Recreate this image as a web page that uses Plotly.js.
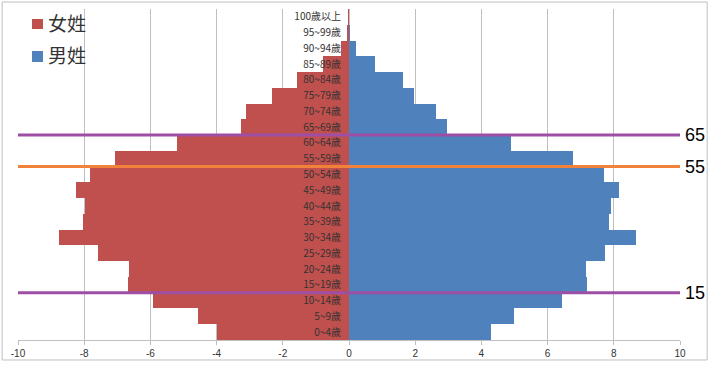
<!DOCTYPE html>
<html>
<head>
<meta charset="utf-8">
<script src="https://cdn.plot.ly/plotly-3.0.1.min.js"></script>
<style>html,body{margin:0;padding:0;background:#fff;}#chart{width:720px;height:386px;}</style>
</head>
<body>
<div id="chart"></div>
<script>
const ageGroups = ["0~4歲","5~9歲","10~14歲","15~19歲","20~24歲","25~29歲","30~34歲","35~39歲","40~44歲","45~49歲","50~54歲","55~59歲","60~64歲","65~69歲","70~74歲","75~79歲","80~84歲","85~89歲","90~94歲","95~99歲","100歲以上"];
const female = [3.98,4.56,5.93,6.69,6.65,7.59,8.77,8.04,7.99,8.24,7.84,7.06,5.2,3.27,3.11,2.34,1.58,0.8,0.24,0.06,0.03];
const male = [4.28,4.97,6.43,7.19,7.16,7.72,8.66,7.86,7.91,8.17,7.69,6.78,4.9,2.97,2.62,1.96,1.64,0.78,0.2,0.02,0.01];
const xTicks = [-10,-8,-6,-4,-2,0,2,4,6,8,10];
const seriesNames = ["女姓","男姓"];
const seriesColors = ["#C0504D","#4F81BD"];
const refAges = [65,55,15];
const refColors = ["#9E4FA5","#F0823A","#9E4FA5"];

const femaleNeg = female.map(v => -v);
const cjk = '"Noto Sans CJK TC","Noto Sans CJK SC",sans-serif';

const traces = [
  {type:'bar', orientation:'h', name:seriesNames[0], y:ageGroups, x:femaleNeg,
   marker:{color:seriesColors[0]}, hoverinfo:'skip'},
  {type:'bar', orientation:'h', name:seriesNames[1], y:ageGroups, x:male,
   marker:{color:seriesColors[1]}, hoverinfo:'skip'}
];

const shapes = [];
const annotations = [];
refAges.forEach((a,i) => {
  const yb = a/5 - 0.5;
  shapes.push({type:'line', xref:'x', yref:'y', x0:-10, x1:10, y0:yb, y1:yb,
    line:{color:refColors[i], width:3}, layer:'above'});
  annotations.push({xref:'paper', yref:'y', x:1.004, y:yb, text:String(a), showarrow:false,
    xanchor:'left', yanchor:'middle', font:{size:18, color:'#000', family:'"Liberation Sans",Arial,sans-serif'}});
});
// legend (drawn manually to match the original placement)
const legSquares = [[0.9396,0.9698],[0.8399,0.8731]];
const legTextY = [0.9607,0.8640];
seriesNames.forEach((n,i) => {
  shapes.push({type:'rect', xref:'paper', yref:'paper', x0:0.0211, x1:0.0378,
    y0:legSquares[i][0], y1:legSquares[i][1], line:{width:0}, fillcolor:seriesColors[i], layer:'above'});
  annotations.push({xref:'paper', yref:'paper', x:0.0425, y:legTextY[i], text:n, showarrow:false,
    xanchor:'left', yanchor:'middle', font:{size:19, color:'#333', family:cjk}});
});
// outer chart border
shapes.push({type:'rect', xref:'paper', yref:'paper', x0:-0.024, x1:1.041, y0:-0.0604, y1:1.021,
  line:{color:'#BFBFBF', width:1}, fillcolor:'rgba(0,0,0,0)', layer:'below'});

const layout = {
  width:720, height:386,
  margin:{l:18, r:40, t:9, b:46},
  paper_bgcolor:'#fff', plot_bgcolor:'#fff',
  barmode:'relative', bargap:0,
  font:{family:cjk, color:'#333'},
  xaxis:{range:[-10,10], tickvals:xTicks, ticktext:xTicks.map(String), showgrid:true,
    gridcolor:'#BFBFBF', gridwidth:1, zeroline:false, showline:true, linecolor:'#BFBFBF',
    ticks:'outside', ticklen:4, tickcolor:'#BFBFBF', tickfont:{size:10, color:'#333', family:'"Liberation Sans",Arial,sans-serif'},
    fixedrange:true},
  yaxis:{type:'category', anchor:'free', position:0.5, side:'left', showgrid:false, zeroline:false,
    showline:false, ticks:'', ticklabelstandoff:8, tickfont:{size:10, color:'#333', family:cjk}, automargin:false,
    range:[-0.5,20.5], fixedrange:true},
  showlegend:false,
  shapes:shapes, annotations:annotations
};

Plotly.newPlot('chart', traces, layout, {displayModeBar:false, staticPlot:true});
</script>
</body>
</html>
